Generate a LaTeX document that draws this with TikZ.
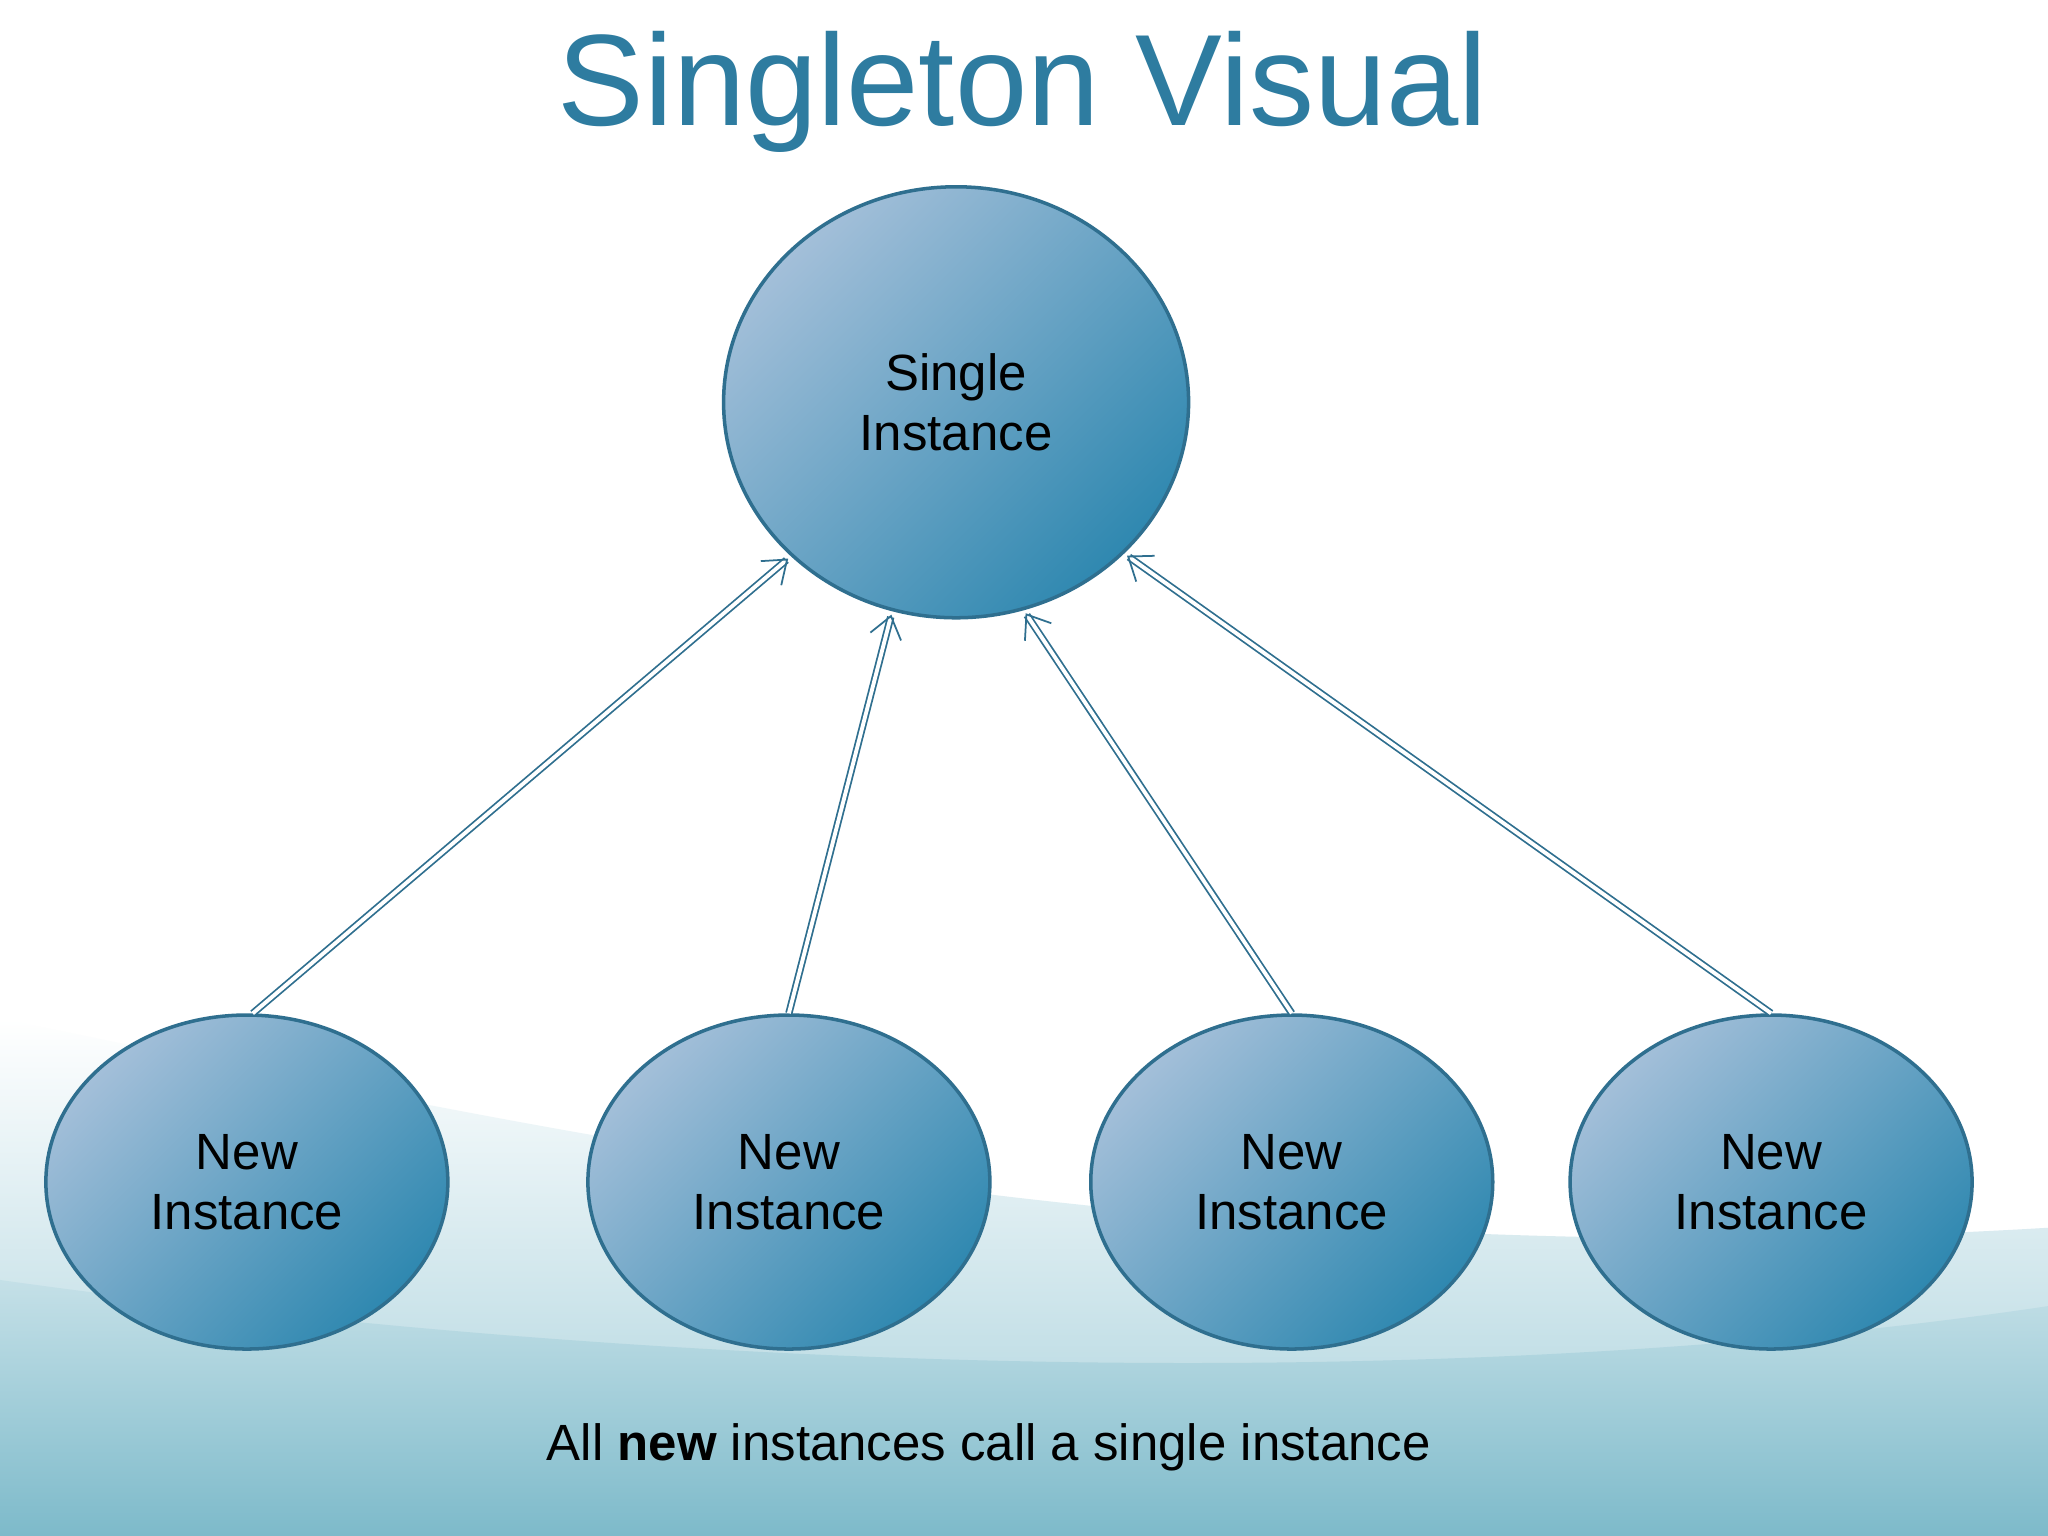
\documentclass[tikz,border=0pt]{standalone}
\usepackage{fontspec}
\setmainfont{Liberation Sans}
\usetikzlibrary{arrows.meta,shapes.geometric}
\definecolor{ttl}{HTML}{2E7CA0}
\definecolor{edge}{HTML}{2F6F8F}
\definecolor{lite}{HTML}{A3BFD9}
\definecolor{dark}{HTML}{2F88B0}
\definecolor{sea}{HTML}{7DBACA}
\tikzset{
  bubble/.style={ellipse, draw=edge, line width=1pt, shading=axis, top color=lite, bottom color=dark, shading angle=45, align=center, font=\fontsize{14.5}{17}\selectfont, inner sep=0pt},
  small/.style={bubble, minimum width=4.02cm, minimum height=3.34cm},
  link/.style={double=white, draw=edge, line width=0.5pt, double distance=1.1pt, -{Straight Barb[length=6pt,width=9pt]}, shorten >=1pt}
}
\begin{document}
\begin{tikzpicture}[x={(0.013061cm,0)},y={(0,-0.013061cm)}]
\useasboundingbox (0,0) rectangle (1568,1176);
\fill[white] (0,0) rectangle (1568,1176);
\shade[top color=white, bottom color=sea!70] (0,780) .. controls (400,860) and (900,980) .. (1568,940) -- (1568,1176) -- (0,1176) -- cycle;
\shade[top color=sea!45, bottom color=sea] (0,980) .. controls (500,1050) and (1100,1070) .. (1568,1000) -- (1568,1176) -- (0,1176) -- cycle;
\node[text=ttl, font=\fontsize{37}{40}\selectfont] (title) at (783,70) {Singleton Visual};
\node[bubble, minimum width=4.65cm, minimum height=4.31cm] (s) at (732,308) {Single\\Instance};
\node[small] (n1) at (189,905) {New\\Instance};
\node[small] (n2) at (604,905) {New\\Instance};
\node[small] (n3) at (989,905) {New\\Instance};
\node[small] (n4) at (1356,905) {New\\Instance};
\draw[link] (n1.88) -- (s.-137);
\draw[link] (n2.90) -- (s.-107.7);
\draw[link] (n3.90) -- (s.-72.8);
\draw[link] (n4.90) -- (s.-42);
\node[font=\fontsize{14.5}{17}\selectfont] (cap) at (757,1108) {All \textbf{new} instances call a single instance};
\end{tikzpicture}
\end{document}
